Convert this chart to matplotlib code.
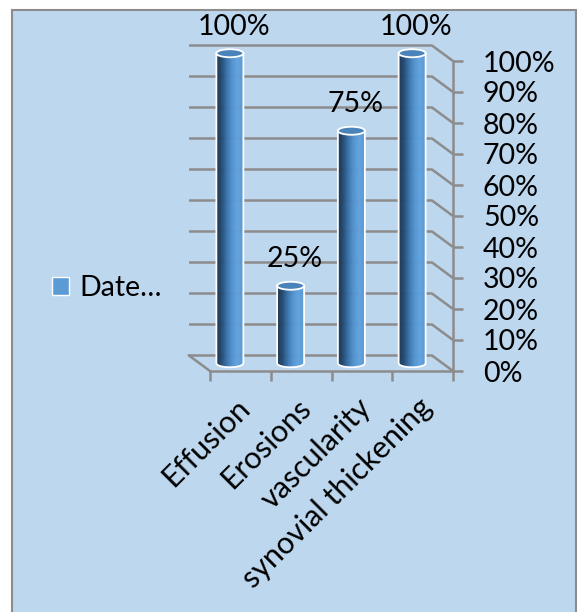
import numpy as np
import matplotlib
matplotlib.use("Agg")
import matplotlib.pyplot as plt
from matplotlib.patches import Rectangle, Ellipse, Patch
from matplotlib.collections import PolyCollection
from matplotlib.colors import LinearSegmentedColormap
from matplotlib.ticker import PercentFormatter, FixedLocator
from matplotlib.transforms import ScaledTranslation

plt.rcParams["font.family"] = ["Lato", "DejaVu Sans"]

categories = ["Effusion", "Erosions", "vascularity", "synovial thickening"]
values = [1.00, 0.25, 0.75, 1.00]
series_name = "Date\u2026"
y_ticks = np.arange(0, 1.01, 0.1)

W, H = 577, 612
fig = plt.figure(figsize=(W / 100, H / 100), dpi=100)
fig.patch.set_facecolor("white")
fig.patches.append(Rectangle((12 / W, -0.02), (575.5 - 12) / W, (H - 10) / H + 0.02,
                             transform=fig.transFigure, facecolor="#BDD7EE",
                             edgecolor="#8C8C8C", lw=1.5, zorder=-10))

# front plane of the 3-D box
ax = fig.add_axes([210 / W, (H - 371) / H, 243 / W, 310 / H])
ax.set_facecolor("none")
ax.set_xlim(0, 4)
ax.set_ylim(0, 1)

grid_c = "#8C8C8C"
# depth shift (back wall) in data units
DX = 21 / (243 / 4)
DY = 15.5 / 310


def shift(x, y, d):
    return x - d * DX, y + d * DY


# back wall gridlines + right side wall diagonals
for t in y_ticks:
    xb0, yb = shift(0, t, 1)
    xb1, _ = shift(4, t, 1)
    ax.plot([xb0, xb1, 4], [yb, yb, t], color=grid_c, lw=1.8, zorder=1,
            solid_capstyle="butt", clip_on=False)
# floor left edge
xb0, yb = shift(0, 0, 1)
ax.plot([xb0, 0], [yb, 0], color=grid_c, lw=1.8, zorder=1, clip_on=False)

# cylinders
cmap = LinearSegmentedColormap.from_list(
    "cyl", ["#1a344f", "#264b72", "#3a74ad", "#5494cf", "#62a3df", "#5b99d4"])
a = 13.5 / (243 / 4)
b = 4.0 / 310
n = 48
edges = np.linspace(-a, a, n + 1)
for i, v in enumerate(values):
    cx, base = shift(i + 0.5, 0, 0.5)
    top = base + v
    polys, cols = [], []
    for k in range(n):
        u0, u1 = edges[k], edges[k + 1]
        y0 = base - b * np.sqrt(max(0, 1 - (u0 / a) ** 2))
        y1 = base - b * np.sqrt(max(0, 1 - (u1 / a) ** 2))
        polys.append([(cx + u0, y0), (cx + u1, y1), (cx + u1, top), (cx + u0, top)])
        cols.append(cmap(k / (n - 1)))
    ax.add_collection(PolyCollection(polys, facecolors=cols, edgecolors=cols,
                                     lw=0.3, zorder=3, clip_on=False))
    uu = np.linspace(-a, a, 60)
    ox = np.concatenate([[cx - a], cx + uu, [cx + a]])
    oy = np.concatenate([[top], base - b * np.sqrt(1 - (uu / a) ** 2), [top]])
    ax.plot(ox, oy, color="white", lw=1.3, zorder=4, clip_on=False)
    ax.add_patch(Ellipse((cx, top), 2 * a, 2 * b, facecolor="#4a82ba",
                         edgecolor="white", lw=1.3, zorder=5, clip_on=False))
    ax.annotate(f"{v:.0%}", (cx, top), xytext=(3, 19), textcoords="offset points",
                ha="center", va="center", fontsize=20.5, color="black",
                zorder=6, annotation_clip=False)

# axes styling
for s in ["top", "left"]:
    ax.spines[s].set_visible(False)
for s in ["right", "bottom"]:
    ax.spines[s].set_color(grid_c)
    ax.spines[s].set_linewidth(1.8)
ax.yaxis.tick_right()
ax.set_yticks(y_ticks)
ax.yaxis.set_major_formatter(PercentFormatter(1.0, decimals=0))
ax.tick_params(axis="y", length=7.5, width=1.8, color=grid_c, labelsize=20.5, pad=14)

ax.xaxis.set_major_locator(FixedLocator(np.arange(0, 4.01, 1)))
ax.xaxis.set_minor_locator(FixedLocator(np.arange(len(categories)) + 0.5))
ax.tick_params(axis="x", which="major", length=7, width=1.8, color=grid_c,
               labelbottom=False)
ax.tick_params(axis="x", which="minor", length=0, labelsize=22, pad=16)
ax.set_xticklabels(categories, minor=True, rotation=45, ha="right",
                   rotation_mode="anchor")
for lab in ax.get_xticklabels(minor=True):
    lab.set_transform(lab.get_transform() + ScaledTranslation(-5 / 100, 0, fig.dpi_scale_trans))

# legend
fig.legend(handles=[Patch(facecolor="#5B9BD5", edgecolor="white", lw=1)],
           labels=[series_name], loc="center left",
           bbox_to_anchor=(52 / W, (H - 288) / H), frameon=False, fontsize=20.5,
           handlelength=0.6, handleheight=0.6, handletextpad=0.35, borderpad=0,
           borderaxespad=0)

fig.savefig("out.png", dpi=100)
